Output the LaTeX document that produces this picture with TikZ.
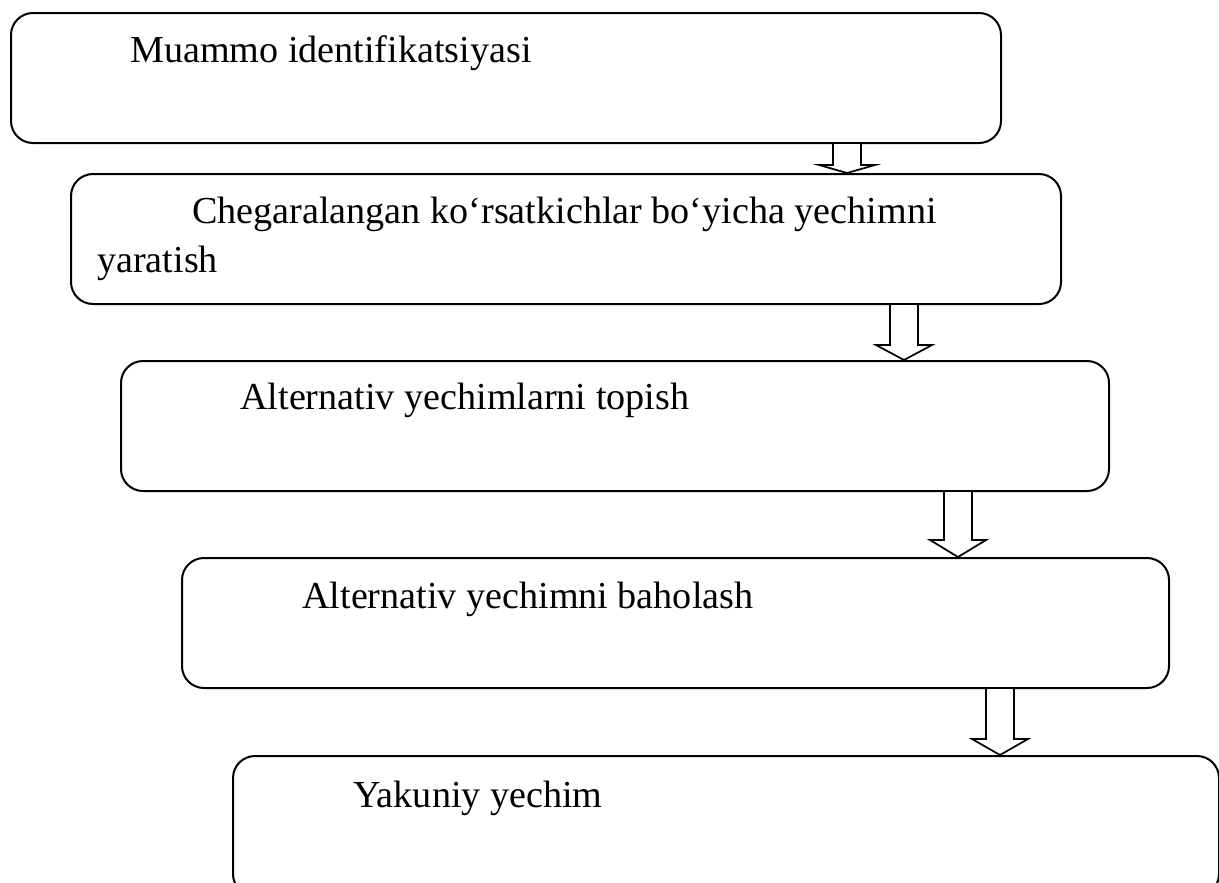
\documentclass[tikz,border=0pt]{standalone}
\usepackage{fontspec}
\setmainfont{Liberation Serif}
\usetikzlibrary{calc}
\tikzset{
  box/.style={draw, line width=1.5pt, rounded corners=16.5pt, anchor=north west, inner sep=0pt},
  lbl/.style={anchor=base west, inner sep=0pt, font=\fontsize{28.6}{34}\selectfont},
  blockarrow/.style={draw, fill=white, line width=1.3pt, line join=miter}
}
\newcommand\blockarr[4]{%
  \coordinate (ax) at (#3,0);
  \draw[blockarrow] let \p1=(#1.south -| ax), \p2=(#2.north -| ax) in
    (\x1-10.5pt,\y1) -- (\x1-10.5pt,\y2+#4) -- (\x1-21pt,\y2+#4) -- (\p2)
    -- (\x1+21pt,\y2+#4) -- (\x1+10.5pt,\y2+#4) -- (\x1+10.5pt,\y1);
}
\begin{document}
\begin{tikzpicture}[x=0.75pt, y=-0.75pt]
\useasboundingbox (0,0) rectangle (1219,882);
\node[box, minimum width=742.5pt, minimum height=97.5pt] (b1) at (10,12) {};
\node[box, minimum width=742.5pt, minimum height=97.5pt] (b2) at (70,173) {};
\node[box, minimum width=741pt, minimum height=97.5pt] (b3) at (120,360) {};
\node[box, minimum width=740.25pt, minimum height=97.5pt] (b4) at (181,557) {};
\node[box, minimum width=739.5pt, minimum height=105pt] (b5) at (232,755) {};

\node[lbl] (t1) at (130,62) {Muammo identifikatsiyasi};
\node[lbl] (t2a) at (192,223) {Chegaralangan ko‘rsatkichlar bo‘yicha yechimni};
\node[lbl] (t2b) at (97,272) {yaratish};
\node[lbl] (t3) at (240,409) {Alternativ yechimlarni topish};
\node[lbl] (t4) at (302,608) {Alternativ yechimni baholash};
\node[lbl] (t5) at (353,807) {Yakuniy yechim};

\blockarr{b1}{b2}{847}{6pt}
\blockarr{b2}{b3}{904}{11.25pt}
\blockarr{b3}{b4}{958}{12.75pt}
\blockarr{b4}{b5}{1000}{12pt}
\end{tikzpicture}
\end{document}
